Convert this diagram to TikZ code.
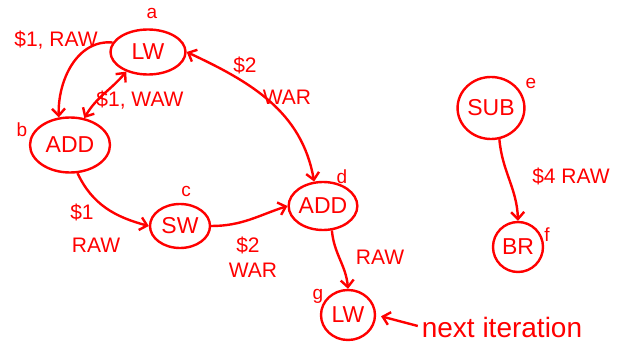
\documentclass[tikz,border=0pt]{standalone}
\usepackage{fontspec}
\setmainfont{Liberation Sans}
\usetikzlibrary{shapes.geometric,arrows.meta}
\definecolor{ink}{RGB}{255,0,0}
\tikzset{
  every picture/.style={x=1pt,y=1pt},
  op/.style={draw=ink, line width=2.4pt, ellipse, inner sep=0pt, text=ink,
     font=\fontsize{23}{25}\selectfont},
  tag/.style={text=ink, font=\fontsize{19}{21}\selectfont, inner sep=0pt},
  lbl/.style={text=ink, font=\fontsize{21}{23}\selectfont, inner sep=0pt, align=center},
  dep/.style={draw=ink, line width=2.4pt, -{Straight Barb[length=7pt,width=13pt,line width=2.4pt]}},
  dep2/.style={dep, {Straight Barb[length=7pt,width=13pt,line width=2.4pt]}-{Straight Barb[length=7pt,width=13pt,line width=2.4pt]}}
}
\begin{document}
\begin{tikzpicture}
\useasboundingbox (0,0) rectangle (633,354);
% nodes
\node[op, minimum width=75pt, minimum height=45pt] (a) at (148,302) {LW};
\node[op, minimum width=80pt, minimum height=55pt] (b) at (70,209) {ADD};
\node[op, minimum width=60pt, minimum height=44pt] (c) at (180,128) {SW};
\node[op, minimum width=62pt, minimum height=48pt] (d) at (323,148) {ADD};
\node[op, minimum width=60pt, minimum height=62pt] (e) at (491,246) {SUB};
\node[op, minimum width=50pt, minimum height=50pt] (f) at (518,107) {BR};
\node[op, minimum width=54pt, minimum height=50pt] (g) at (348,39) {LW};
% letter tags
\node[tag] (ta) at (152,341) {a};
\node[tag] (tb) at (22,224) {b};
\node[tag] (tc) at (186,163) {c};
\node[tag] (td) at (342,177) {d};
\node[tag] (te) at (531,271) {e};
\node[tag] (tf) at (547,119) {f};
\node[tag] (tg) at (318,58) {g};
% edge labels
\node[lbl] (l1) at (56,314) {\$1, RAW};
\node[lbl] (l2) at (140,254) {\$1, WAW};
\node[lbl] (l3) at (245,289) {\$2};
\node[lbl] (l4) at (287,257) {WAR};
\node[lbl] (l5) at (82,142) {\$1};
\node[lbl] (l6) at (96,109) {RAW};
\node[lbl] (l7) at (248,109) {\$2};
\node[lbl] (l8) at (253,84) {WAR};
\node[lbl] (l9) at (380,97) {RAW};
\node[lbl] (l10) at (571,178) {\$4 RAW};
\node[lbl, font=\fontsize{28}{30}\selectfont] (ni) at (502,27) {next iteration};
% connectors
\draw[dep] (a.165) to[out=175,in=92] (b.112);
\draw[dep2] (a.222) to[out=230,in=60] (b.62);
\draw[dep2] (a.east) to[out=-25,in=100] (d.110);
\draw[dep] (b.-75) to[out=-65,in=165] (c.west);
\draw[dep] (c.east) to[out=0,in=198] (d.west);
\draw[dep] (d.-70) to[out=-85,in=95] (g.north);
\draw[dep] (e.-75) to[out=-85,in=92] (f.north);
\draw[dep, shorten >=5pt, shorten <=4pt] (ni.west) -- (g.east);
\end{tikzpicture}
\end{document}
